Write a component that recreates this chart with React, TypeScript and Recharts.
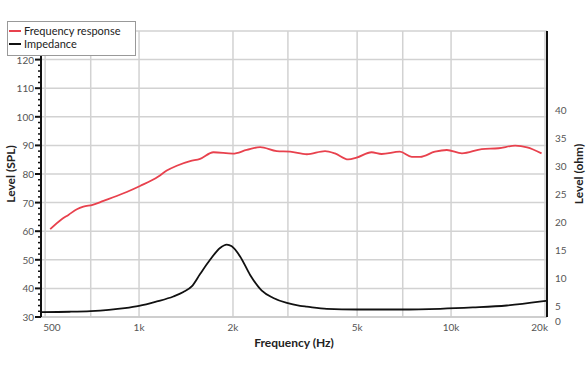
import { LineChart, Line, XAxis, YAxis, CartesianGrid } from "recharts";

// frequency response (SPL)
const splFreq = [519, 565, 594, 632, 663, 710, 769, 848, 913, 1007, 1153, 1227, 1321, 1458, 1569, 1731, 1998, 2214, 2444, 2763, 3050, 3450, 3945, 4245, 4683, 4978, 5562, 5988, 6855, 7482, 7956, 8880, 9693, 10840, 12540, 14200, 16050, 17530, 19500];
const splLevel = [60.7, 64.2, 65.7, 67.7, 68.6, 69.2, 70.6, 72.3, 73.7, 75.8, 79.1, 81.2, 82.9, 84.5, 85.3, 87.6, 87.1, 88.4, 89.4, 88.0, 87.8, 86.9, 88.0, 87.2, 85.1, 85.7, 87.6, 87.0, 87.8, 86.0, 86.0, 87.8, 88.4, 87.2, 88.7, 89.0, 89.9, 89.3, 87.2];

// impedance
const impFreq = [485, 600, 700, 800, 900, 1000, 1139, 1288, 1387, 1475, 1569, 1689, 1818, 1910, 1982, 2108, 2270, 2474, 2694, 2976, 3282, 3450, 3998, 4982, 6855, 9222, 11750, 15080, 19500, 20300];
const impOhm = [3.88, 3.94, 4.06, 4.28, 4.58, 4.98, 5.77, 6.66, 7.45, 8.45, 10.66, 13.2, 15.3, 15.9, 15.6, 13.8, 10.5, 7.7, 6.4, 5.5, 5.0, 4.85, 4.46, 4.34, 4.34, 4.46, 4.7, 5.05, 5.77, 5.9];

const freqTicks = [500, 600, 700, 800, 900, 1000, 2000, 3000, 4000, 5000, 6000, 7000, 8000, 9000, 10000, 20000];
const freqLabels: Record<number, string> = { 500: "500", 1000: "1k", 2000: "2k", 5000: "5k", 10000: "10k", 20000: "20k" };
const splMajor = [30, 40, 50, 60, 70, 80, 90, 100, 110, 120, 130];
const splLabelMax = 120;
const splTicks = Array.from({ length: 51 }, (_, i) => 30 + i * 2);
const ohmMin = 3;
const ohmTicks = [ohmMin, 5, 10, 15, 20, 25, 30, 35, 40];

const splData = splFreq.map((f, i) => ({ f, spl: splLevel[i] }));
const impData = impFreq.map((f, i) => ({ f, ohm: impOhm[i] }));

const FONT = "Lato, 'Open Sans', sans-serif";

const FreqTick = ({ x, y, payload }: any) => {
  const label = freqLabels[payload.value];
  if (!label) return null;
  let anchor = "middle";
  let dx = 0;
  if (payload.value === 500) { anchor = "start"; dx = -2; }
  if (payload.value === 20000) { anchor = "end"; dx = 3; }
  return (
    <text x={x + dx} y={y + 14} textAnchor={anchor} fontSize={10} fill="#555" fontFamily={FONT}>
      {label}
    </text>
  );
};

const SplTick = ({ x, y, payload }: any) => {
  const v = payload.value;
  const major = v % 10 === 0;
  return (
    <g>
      <line x1={x - (major ? 6 : 3)} x2={x} y1={y} y2={y} stroke="#111" strokeWidth={major ? 2 : 1.5} />
      {major && v <= splLabelMax && (
        <text x={x - 7} y={y + 4} textAnchor="end" fontSize={10} fill="#555" fontFamily={FONT}>
          {v}
        </text>
      )}
    </g>
  );
};

const OhmTick = ({ x, y, payload }: any) => {
  const v = payload.value;
  return (
    <text x={x + 8} y={y + 4 + (v === ohmMin ? 4 : 0)} textAnchor="start" fontSize={10} fill="#555" fontFamily={FONT}>
      {v === ohmMin ? 0 : v}
    </text>
  );
};

export default function App() {
  return (
    <div style={{ position: "absolute", left: 0, top: 0, width: 588, height: 372, background: "#fff" }}>
      <LineChart width={588} height={372} margin={{ top: 31, right: 5, bottom: 15, left: 5 }}>
        <CartesianGrid yAxisId="left" stroke="#d2d2d2" strokeWidth={1.5} horizontalValues={splMajor} />
        <XAxis
          dataKey="f"
          type="number"
          scale="log"
          domain={[485, 20300]}
          allowDataOverflow
          ticks={freqTicks}
          tick={<FreqTick />}
          tickSize={0}
          tickMargin={0}
          tickLine={false}
          height={40}
          axisLine={{ stroke: "#c8c8c8", strokeWidth: 1.5 }}
          label={{ value: "Frequency (Hz)", position: "insideBottom", offset: 10, fontSize: 12, fontWeight: 700, fill: "#222", fontFamily: FONT }}
        />
        <YAxis
          yAxisId="left"
          domain={[30, 130]}
          ticks={splTicks}
          interval={0}
          tick={<SplTick />}
          tickSize={0}
          tickMargin={0}
          tickLine={false}
          width={36}
          axisLine={{ stroke: "#111", strokeWidth: 2 }}
          label={{ value: "Level (SPL)", angle: -90, position: "insideLeft", offset: 6, fontSize: 12, fontWeight: 700, fill: "#222", fontFamily: FONT, style: { textAnchor: "middle" } }}
        />
        <YAxis
          yAxisId="right"
          orientation="right"
          domain={[ohmMin, 54]}
          ticks={ohmTicks}
          interval={0}
          tick={<OhmTick />}
          tickSize={0}
          tickMargin={0}
          tickLine={false}
          width={36}
          axisLine={{ stroke: "#111", strokeWidth: 2 }}
          label={{ value: "Level (ohm)", angle: -90, position: "insideRight", offset: 4, fontSize: 12, fontWeight: 700, fill: "#222", fontFamily: FONT, style: { textAnchor: "middle" } }}
        />
        <Line yAxisId="left" data={splData} dataKey="spl" type="monotone" stroke="#e8414d" strokeWidth={1.8} dot={false} isAnimationActive={false} />
        <Line yAxisId="right" data={impData} dataKey="ohm" type="monotone" stroke="#111" strokeWidth={1.8} dot={false} isAnimationActive={false} />
      </LineChart>
      <div
        style={{
          position: "absolute",
          left: 7,
          top: 21,
          width: 126,
          height: 31,
          border: "1px solid #999",
          background: "#fff",
          fontFamily: FONT,
          fontSize: 11,
          color: "#222",
          lineHeight: "13px",
          padding: "2px 0 0 1px",
        }}
      >
        {[
          { name: "Frequency response", color: "#e8414d" },
          { name: "Impedance", color: "#111" },
        ].map((it) => (
          <div key={it.name} style={{ display: "flex", alignItems: "center", height: 13 }}>
            <span style={{ display: "inline-block", width: 12, height: 2, background: it.color, marginRight: 3 }} />
            {it.name}
          </div>
        ))}
      </div>
    </div>
  );
}
